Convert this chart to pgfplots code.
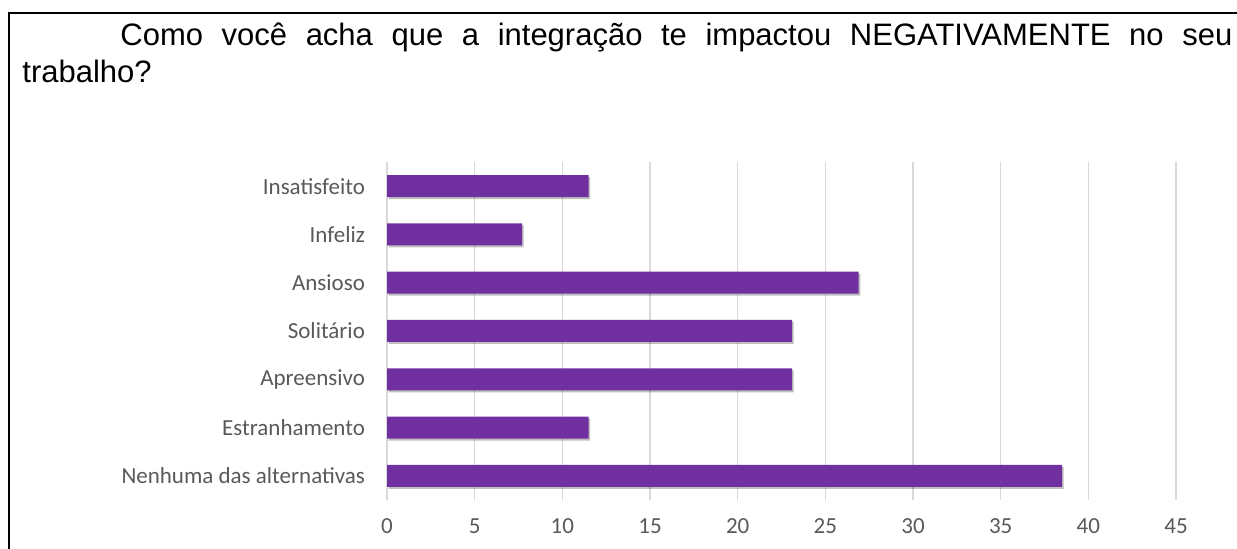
\documentclass[border=0pt]{standalone}
\usepackage{fontspec}
\setmainfont{Liberation Sans}
\newfontfamily\calibri{Carlito}
\usepackage{pgfplots}
\pgfplotsset{compat=1.18}
\usetikzlibrary{shadows}
\definecolor{barpurple}{RGB}{112,48,160}
\definecolor{gridgray}{RGB}{217,217,217}
\definecolor{labelgray}{RGB}{89,89,89}
\begin{document}
\begin{tikzpicture}
\path[use as bounding box] (0,0) rectangle (618.5pt,274.5pt);
% frame
\draw[black, line width=1pt] (4pt,267.75pt) -- (618.5pt,267.75pt);
\draw[black, line width=0.75pt] (4.5pt,268.25pt) -- (4.5pt,0pt);
% title
\node[anchor=base west, inner sep=0pt] at (60pt,251.5pt)
  {\fontsize{15.5}{18}\selectfont\makebox[556pt][s]{Como você acha que a integração te impactou NEGATIVAMENTE no seu}};
\node[anchor=base west, inner sep=0pt] at (11pt,233pt)
  {\fontsize{15.5}{18}\selectfont trabalho?};
\begin{axis}[
  at={(193.5pt,24.5pt)}, anchor=south west,
  scale only axis,
  width=394.5pt, height=169pt,
  xmin=0, xmax=45, ymin=-0.5, ymax=6.5,
  xtick={0,5,...,45},
  ytick={0,1,2,3,4,5,6},
  yticklabels={Nenhuma das alternativas,Estranhamento,Apreensivo,Solitário,Ansioso,Infeliz,Insatisfeito},
  xmajorgrids,
  grid style={gridgray, line width=0.75pt},
  axis line style={draw=none},
  tick style={draw=none},
  major tick length=0pt,
  /pgf/number format/assume math mode=true,
  ticklabel style={font=\calibri\fontsize{11.5}{13}\selectfont, text=labelgray},
  yticklabel style={xshift=-7.5pt},
  xticklabel style={yshift=-6pt},
  xbar, bar width=11pt,
]
\addplot[fill=barpurple, draw=none, drop shadow={shadow xshift=0.8pt, shadow yshift=-1pt, opacity=0.25, fill=black}] coordinates {
  (38.5,0) (11.5,1) (23.1,2) (23.1,3) (26.9,4) (7.7,5) (11.5,6)
};
\end{axis}
\end{tikzpicture}
\end{document}
